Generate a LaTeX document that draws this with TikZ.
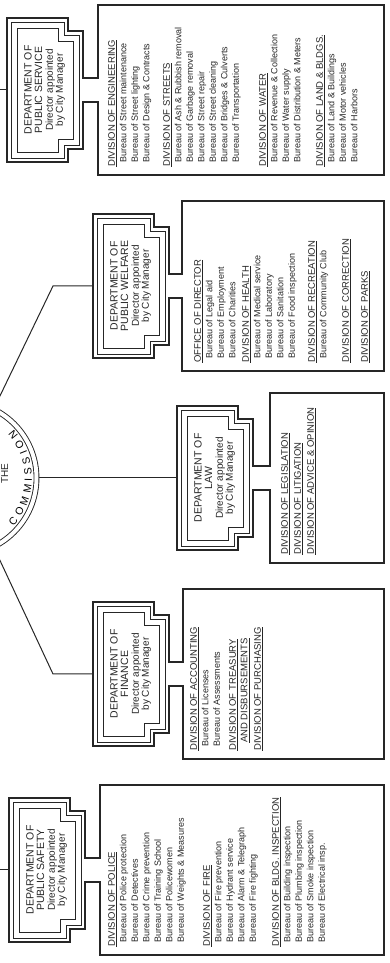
\documentclass[tikz,border=0pt]{standalone}
\usepackage{fontspec}
\setmainfont{Liberation Sans}
\usetikzlibrary{decorations.text}

\newcommand{\hd}[1]{{\fontsize{9.5}{11.5}\selectfont\underline{#1}}}

\begin{document}
\begin{tikzpicture}[x=1pt, y=1pt, rotate=90, transform shape, color=black!85,
    outline/.style={line width=1.4pt, line join=miter},
    inline/.style={line width=0.8pt},
    link/.style={line width=1pt},
    depttitle/.style={inner sep=0pt, anchor=north, align=center, font=\fontsize{10.5}{10.5}\selectfont},
    deptsub/.style={inner sep=0pt, anchor=north, align=center, font=\fontsize{10}{10}\selectfont},
    divtext/.style={inner sep=0pt, anchor=north west, align=left, font=\fontsize{9}{11.5}\selectfont}]

    % the page, drawn lying on its side
    \useasboundingbox (0,-390) rectangle (963,0);
    \clip (0,-390) rectangle (963,0);

    % 1. the commission
    \coordinate (commc) at (485,40);
    \node[circle, draw, double, double distance=4pt, line width=0.9pt,
          minimum size=153pt, outer sep=2.6pt] (comm) at (commc) {};
    \node[inner sep=0pt, anchor=north, font=\fontsize{10}{10}\selectfont] (the) at (489,-1) {THE};
    \path[shift={(485,40)}, decorate,
          decoration={text along path, text align={fit to path},
                      text={|\fontsize{10.5}{10.5}\selectfont|COMMISSION}}]
        (228:72) arc[start angle=228, end angle=312, radius=72];

    % 2. the five departments, each joined to its box of divisions
    \foreach \n/\cx/\tp/\dv/\lbl in {serv/873/-7/-98/PUBLIC SERVICE,
                                     welf/677/-93/-182/PUBLIC WELFARE,
                                     law/485/-177/-270/LAW,
                                     fin/289/-93/-183/FINANCE,
                                     safe/93/-9/-100/PUBLIC SAFETY} {
        \coordinate (\n-top) at (\cx,\tp);
        \draw[outline] (\cx-12,\dv) -- (\cx-12,\tp-76) -- (\cx-59,\tp-76) -- (\cx-59,\tp-61)
            -- (\cx-72,\tp-61) -- (\cx-72,\tp) -- (\cx+72,\tp) -- (\cx+72,\tp-61)
            -- (\cx+59,\tp-61) -- (\cx+59,\tp-76) -- (\cx+12,\tp-76) -- (\cx+12,\dv)
            -- (\cx+85,\dv) -- (\cx+85,-384) -- (\cx-85,-384) -- (\cx-85,\dv) -- cycle;
        \foreach \i in {4,10}
            \draw[inline] (\cx-72+\i,\tp-\i) -- (\cx+72-\i,\tp-\i) -- (\cx+72-\i,\tp-61+\i)
                -- (\cx+59-\i,\tp-61+\i) -- (\cx+59-\i,\tp-76+\i) -- (\cx-59+\i,\tp-76+\i)
                -- (\cx-59+\i,\tp-61+\i) -- (\cx-72+\i,\tp-61+\i) -- cycle;
        \node[depttitle] (\n-title) at (\cx,\tp-17) {DEPARTMENT OF\\\lbl};
        \node[deptsub] (\n-sub) at (\cx,\tp-38.5) {Director appointed\\by City Manager};
    }

    % 3. connectors from the commission
    \draw[link] (comm.south) -- (law-top);
    \coordinate (fin-knee) at (289,-53);
    \draw[link] (comm.206) -- (fin-knee) -- (fin-top);
    \coordinate (welf-knee) at (677,-53);
    \draw[link] (comm.334) -- (welf-knee) -- (welf-top);
    \coordinate (safe-in) at (93,0);
    \draw[link] (safe-in) -- (safe-top);
    \coordinate (serv-in) at (873,0);
    \draw[link] (serv-in) -- (serv-top);

    % 4. divisions of public safety
    \node[divtext] (safe-pol) at (16,-108) {\hd{DIVISION OF POLICE}\\
        \hspace*{4pt}Bureau of Police protection\\ \hspace*{4pt}Bureau of Detectives\\
        \hspace*{4pt}Bureau of Crime prevention\\ \hspace*{4pt}Bureau of Training School\\
        \hspace*{4pt}Bureau of Policewomen\\ \hspace*{4pt}Bureau of Weights \& Measures};
    \node[divtext] (safe-fire) at (16,-203) {\hd{DIVISION OF FIRE}\\
        \hspace*{4pt}Bureau of Fire prevention\\ \hspace*{4pt}Bureau of Hydrant service\\
        \hspace*{4pt}Bureau of Alarm \& Telegraph\\ \hspace*{4pt}Bureau of Fire fighting};
    \node[divtext] (safe-bldg) at (16,-272) {\hd{DIVISION OF BLDG. INSPECTION}\\
        \hspace*{4pt}Bureau of Building inspection\\ \hspace*{4pt}Bureau of Plumbing inspection\\
        \hspace*{4pt}Bureau of Smoke inspection\\ \hspace*{4pt}Bureau of Electrical insp.};

    % 5. divisions of finance
    \node[divtext] (fin-acc) at (212,-190) {\hd{DIVISION OF ACCOUNTING}\\
        \hspace*{4pt}Bureau of Licenses\\ \hspace*{4pt}Bureau of Assessments};
    \node[divtext] (fin-tre) at (212,-229) {\hd{DIVISION OF TREASURY}\\
        \hspace*{8pt}\hd{AND DISBURSEMENTS}};
    \node[divtext] (fin-pur) at (212,-254) {\hd{DIVISION OF PURCHASING}};

    % 6. divisions of law
    \node[divtext] (law-div) at (408,-281) {\hd{DIVISION OF LEGISLATION}\\[1.5pt]
        \hd{DIVISION OF LITIGATION}\\[1.5pt] \hd{DIVISION OF ADVICE \& OPINION}};

    % 7. divisions of public welfare
    \node[divtext] (welf-dir) at (600,-194) {\hd{OFFICE OF DIRECTOR}\\
        \hspace*{4pt}Bureau of Legal aid\\ \hspace*{4pt}Bureau of Employment\\
        \hspace*{4pt}Bureau of Charities};
    \node[divtext] (welf-hea) at (600,-242) {\hd{DIVISION OF HEALTH}\\
        \hspace*{4pt}Bureau of Medical service\\ \hspace*{4pt}Bureau of Laboratory\\
        \hspace*{4pt}Bureau of Sanitation\\ \hspace*{4pt}Bureau of Food inspection};
    \node[divtext] (welf-rec) at (600,-308) {\hd{DIVISION OF RECREATION}\\
        \hspace*{4pt}Bureau of Community Club};
    \node[divtext] (welf-cor) at (600,-342) {\hd{DIVISION OF CORRECTION}};
    \node[divtext] (welf-par) at (600,-361) {\hd{DIVISION OF PARKS}};

    % 8. divisions of public service
    \node[divtext] (serv-eng) at (796,-108) {\hd{DIVISION OF ENGINEERING}\\
        \hspace*{4pt}Bureau of Street maintenance\\ \hspace*{4pt}Bureau of Street lighting\\
        \hspace*{4pt}Bureau of Design \& Contracts};
    \node[divtext] (serv-str) at (796,-163) {\hd{DIVISION OF STREETS}\\
        \hspace*{4pt}Bureau of Ash \& Rubbish removal\\ \hspace*{4pt}Bureau of Garbage removal\\
        \hspace*{4pt}Bureau of Street repair\\ \hspace*{4pt}Bureau of Street cleaning\\
        \hspace*{4pt}Bureau of Bridges \& Culverts\\ \hspace*{4pt}Bureau of Transportation};
    \node[divtext] (serv-wat) at (796,-259) {\hd{DIVISION OF WATER}\\
        \hspace*{4pt}Bureau of Revenue \& Collection\\ \hspace*{4pt}Bureau of Water supply\\
        \hspace*{4pt}Bureau of Distribution \& Meters};
    \node[divtext] (serv-lan) at (796,-316) {\hd{DIVISION OF LAND \& BLDGS.}\\
        \hspace*{4pt}Bureau of Land \& Buildings\\ \hspace*{4pt}Bureau of Motor vehicles\\
        \hspace*{4pt}Bureau of Harbors};

\end{tikzpicture}
\end{document}
